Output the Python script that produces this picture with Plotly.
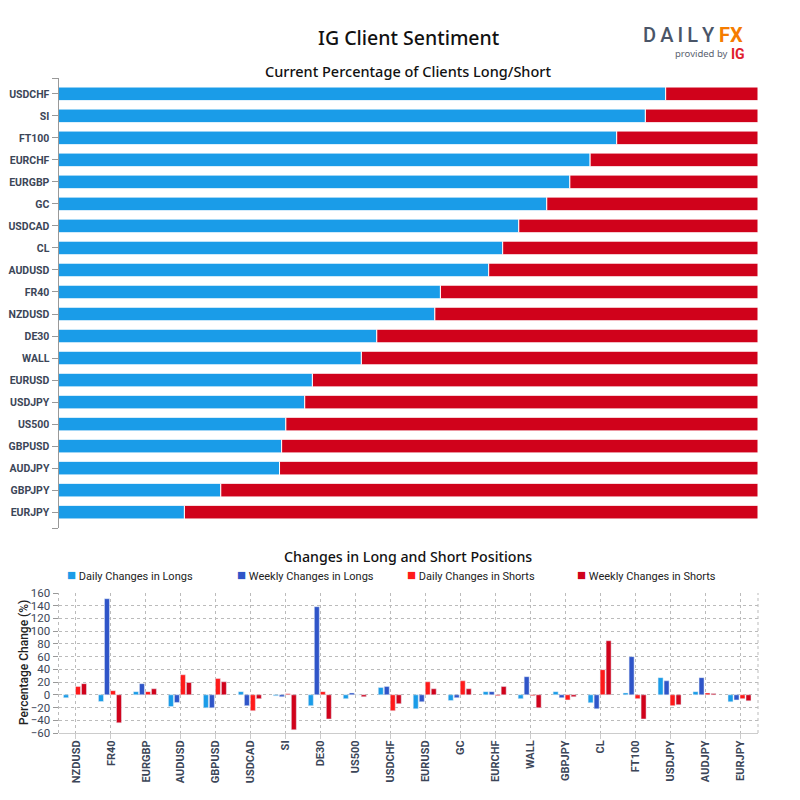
import plotly.graph_objects as go

# top chart: % of clients long, short is the remainder
pairs_top = ["USDCHF", "SI", "FT100", "EURCHF", "EURGBP", "GC", "USDCAD", "CL", "AUDUSD", "FR40",
             "NZDUSD", "DE30", "WALL", "EURUSD", "USDJPY", "US500", "GBPUSD", "AUDJPY", "GBPJPY", "EURJPY"]
pct_long = [86.8, 83.9, 79.8, 76.0, 73.1, 69.8, 65.8, 63.5, 61.5, 54.6,
            53.8, 45.5, 43.3, 36.3, 35.2, 32.5, 31.9, 31.6, 23.2, 18.0]
pct_short = [13.2, 16.1, 20.2, 24.0, 26.9, 30.2, 34.2, 36.5, 38.5, 45.4,
             46.2, 54.5, 56.7, 63.7, 64.8, 67.5, 68.1, 68.4, 76.8, 82.0]

# bottom chart
pairs_bottom = ["NZDUSD", "FR40", "EURGBP", "AUDUSD", "GBPUSD", "USDCAD", "SI", "DE30", "US500", "USDCHF",
                "EURUSD", "GC", "EURCHF", "WALL", "GBPJPY", "CL", "FT100", "USDJPY", "AUDJPY", "EURJPY"]
daily_longs = [-4.5, -10.5, 5, -18.5, -20.5, 5, -1.5, -17, -6, 11.5,
               -22, -9, 5, -6, 5, -12.5, 3, 27, 5, -11]
weekly_longs = [0, 151, 17.5, -12, -20.5, -17, -3, 138.5, 3, 13,
                -11, -4.5, 5, 28.5, -4.5, -22, 60, 22, 27, -8]
daily_shorts = [13, 6.5, 5, 31.5, 25.5, -25, 1.5, 5, 0, -25,
                20.5, 22, -1.5, -1.5, -8, 39.5, -6, -17, 3, -6]
weekly_shorts = [17.5, -44, 9.5, 19.5, 20.5, -6, -55, -38, -3, -14,
                 9.5, 9.5, 13, -20.5, -3, 85, -38, -15.5, 2, -9.5]
y_ticks = [-60, -40, -20, 0, 20, 40, 60, 80, 100, 120, 140, 160]

BLUE = "#1a9ce8"
NAVY = "#2f55c8"
RED = "#ff1a1a"
DARK_RED = "#d0021b"
LABEL = "#3c4658"

series = [("Daily Changes in Longs", daily_longs, BLUE),
          ("Weekly Changes in Longs", weekly_longs, NAVY),
          ("Daily Changes in Shorts", daily_shorts, RED),
          ("Weekly Changes in Shorts", weekly_shorts, DARK_RED)]

# page body has an 8px margin, so the figure is 792 and sits at (8, 8)
SIZE = 792


def px(x):
    return (x - 8) / SIZE


def py(y):
    return 1 - (y - 8) / SIZE


fig = go.Figure()

# 현재 롱/숏 비율
fig.add_trace(go.Bar(y=pairs_top, x=pct_long, orientation="h", width=0.62,
                     marker=dict(color=BLUE, line=dict(color="white", width=1)),
                     xaxis="x", yaxis="y"))
fig.add_trace(go.Bar(y=pairs_top, x=pct_short, base=pct_long, orientation="h", width=0.62,
                     marker=dict(color=DARK_RED, line=dict(color="white", width=1)),
                     xaxis="x", yaxis="y"))

# 포지션 변화 (overlay + explicit offsets, the top pair is stacked through base)
for i, (name, values, color) in enumerate(series):
    fig.add_trace(go.Bar(x=pairs_bottom, y=values, name=name, marker_color=color,
                         width=5 / 35, offset=(-12.5 + 6 * i) / 35,
                         xaxis="x2", yaxis="y2"))

annotations = [
    dict(text="IG Client Sentiment", x=px(409), y=py(38),
         font=dict(family="Noto Sans", size=19.5, color="#111111", weight=500)),
    dict(text="Current Percentage of Clients Long/Short", x=px(408), y=py(71),
         font=dict(family="Noto Sans", size=14.5, color="#111111", weight=500)),
    dict(text="Changes in Long and Short Positions", x=px(408), y=py(556),
         font=dict(family="Noto Sans", size=14.2, color="#111111", weight=500)),
    dict(text="Percentage Change (%)", x=px(24), y=py(663), textangle=-90,
         font=dict(family="Roboto", size=12, color="#222222", weight=500)),
    # logo
    dict(text="D\u2009A\u2009I\u2009L\u2009Y", x=px(678.5), y=py(35),
         font=dict(family="Roboto", size=20, color="#4a5568", weight=500)),
    dict(text="FX", x=px(731), y=py(35), font=dict(family="Roboto", size=20, color="#f57c00", weight=700)),
    dict(text="provided by", x=px(701), y=py(54), font=dict(family="Noto Sans", size=9.5, color="#5a6270")),
    dict(text="IG", x=px(738), y=py(54), font=dict(family="Roboto", size=14, color="#e0202c", weight=700)),
]
# legend row
for i, (name, values, color) in enumerate(series):
    annotations.append(dict(text=f"<span style='color:{color};font-size:15px'>■</span> {name}",
                            x=px(65 + 170 * i), y=py(575), xanchor="left",
                            font=dict(family="Roboto", size=11, color="#222222")))
for a in annotations:
    a.setdefault("xanchor", "center")
    a.update(xref="paper", yref="paper", showarrow=False, yanchor="middle")

fig.update_layout(
    width=SIZE, height=SIZE,
    margin=dict(l=0, r=0, t=0, b=0),
    paper_bgcolor="white", plot_bgcolor="white",
    showlegend=False,
    barmode="overlay",
    annotations=annotations,
    # dashed frame of the bottom plot
    shapes=[dict(type="line", xref="paper", yref="paper", x0=px(x), x1=px(x), y0=py(733), y1=py(593),
                 line=dict(color="#bbbbbb", width=1, dash="dot")) for x in (58.5, 758)],
    xaxis=dict(domain=[px(58.5), px(758)], anchor="y", range=[0, 100], visible=False, automargin=False),
    yaxis=dict(domain=[py(528), py(78)], anchor="x", range=[19.72, -0.72], automargin=False,
               type="category", categoryorder="array", categoryarray=pairs_top,
               tickmode="array", tickvals=[-0.72] + list(range(20)) + [19.72],
               ticktext=[""] + pairs_top + [""],
               ticks="outside", ticklen=6, tickcolor="#999999", showgrid=False, zeroline=False,
               showline=True, linecolor="#999999", linewidth=1,
               tickfont=dict(family="Roboto", size=10.5, color=LABEL, weight="bold")),
    xaxis2=dict(domain=[px(58.5), px(758)], anchor="y2", type="category", automargin=False,
                categoryorder="array", categoryarray=pairs_bottom,
                tickangle=-90, ticks="outside", ticklen=5, tickcolor="#cccccc", ticklabelstandoff=-3,
                showline=True, linecolor="#cccccc", linewidth=1,
                showgrid=True, gridcolor="#bbbbbb", griddash="dot", gridwidth=1,
                tickfont=dict(family="Roboto", size=11, color=LABEL, weight="bold")),
    yaxis2=dict(domain=[py(733), py(593)], anchor="x2", range=[-60, 160], automargin=False,
                tickmode="array", tickvals=y_ticks,
                ticks="outside", ticklen=5, tickcolor="#999999",
                showgrid=True, gridcolor="#bbbbbb", griddash="dot", gridwidth=1,
                zeroline=False, showline=False,
                tickfont=dict(family="Roboto", size=11.5, color=LABEL)),
)

fig.write_html("out.html")
